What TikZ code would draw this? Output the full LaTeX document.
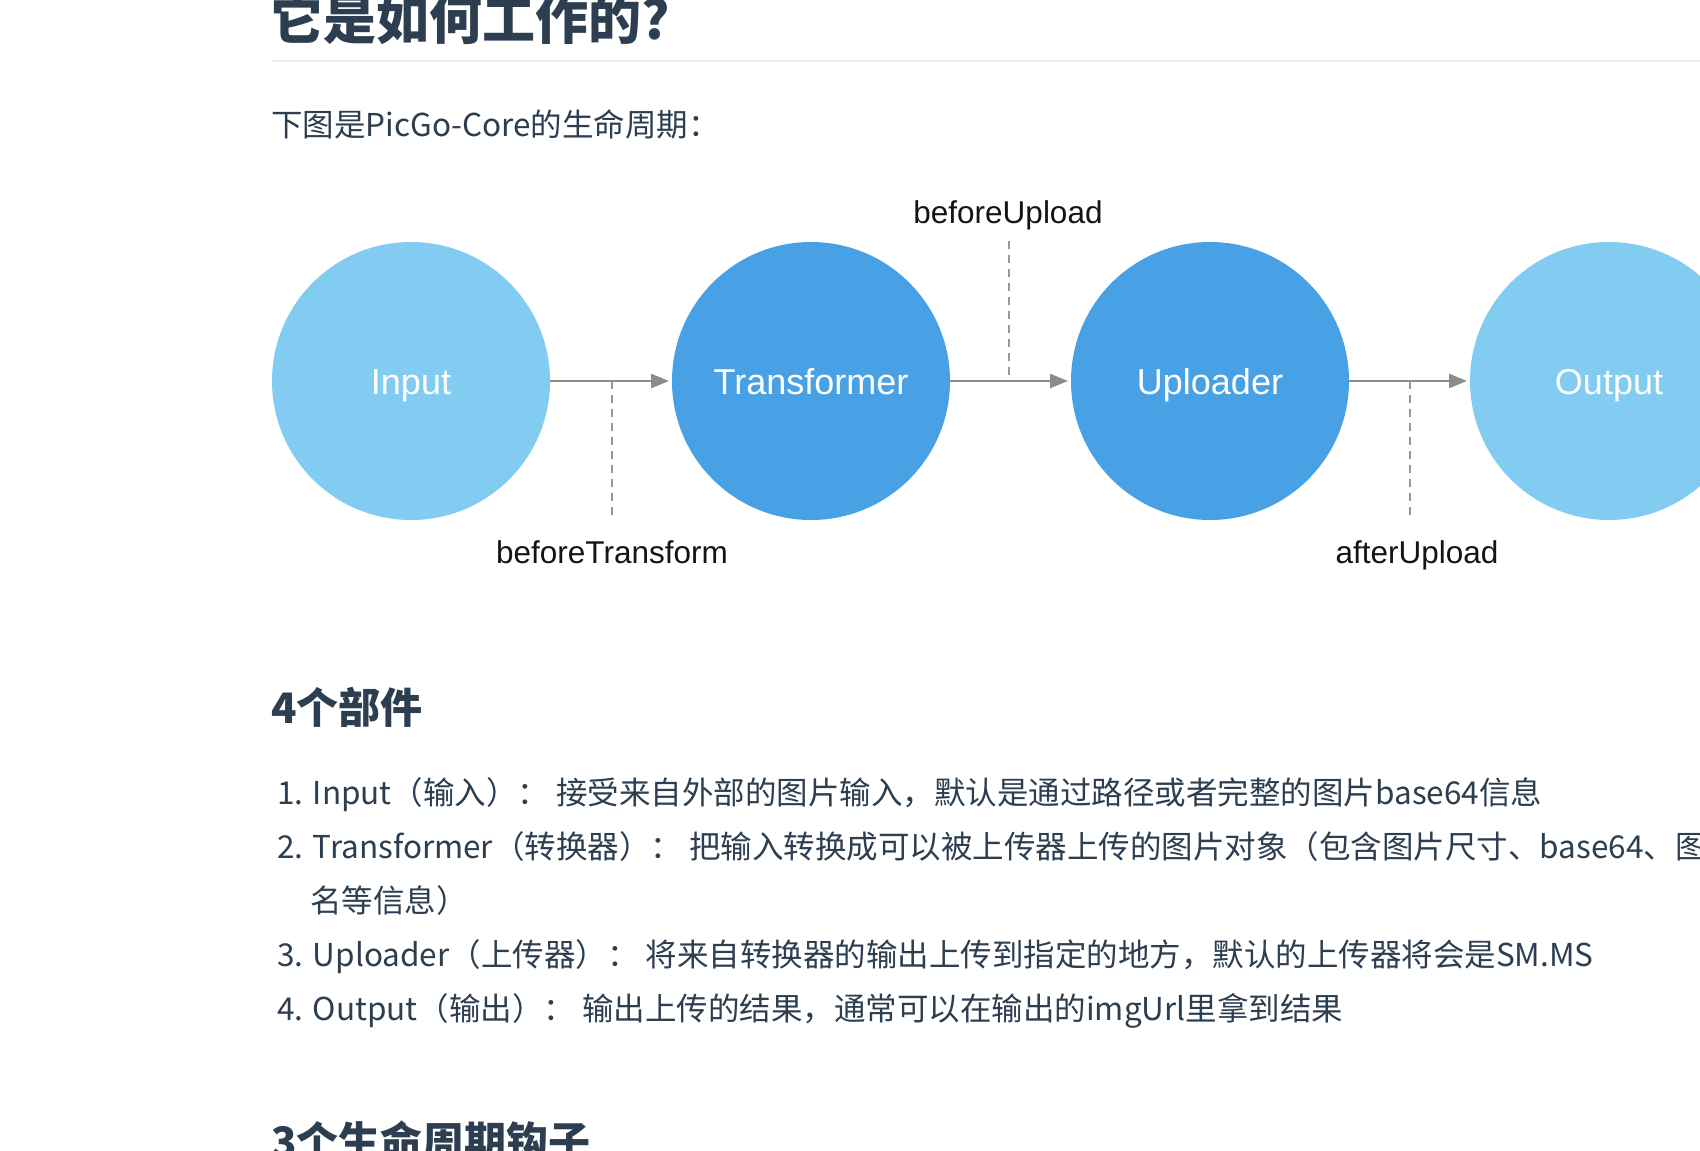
\documentclass[tikz,border=0pt]{standalone}
\usepackage{fontspec}
\setmainfont{Noto Sans CJK SC}
\newfontfamily\diag{Liberation Sans}
\usetikzlibrary{arrows.meta}
\definecolor{lightb}{RGB}{130,203,241}
\definecolor{darkb}{RGB}{72,161,228}
\definecolor{ink}{HTML}{2C3E50}
\definecolor{rulec}{HTML}{EAECEF}
\definecolor{arrg}{HTML}{8C8C8C}
\definecolor{dashg}{HTML}{999999}
\begin{document}
\begin{tikzpicture}[x=1pt,y=-1pt,
  stage/.style={circle,minimum size=278pt,inner sep=0pt,outer sep=0pt,text=white,
    text height=26pt,text depth=0pt,
    font=\diag\fontsize{36}{40}\selectfont},
  flow/.style={draw=arrg,line width=2.6pt,-{Triangle[length=18pt,width=14pt]},shorten >=3pt},
  hook/.style={draw=dashg,line width=2pt,dash pattern=on 8pt off 6pt},
  hooklabel/.style={font=\diag\fontsize{31.5}{36}\selectfont,text=black!92,inner sep=0pt,anchor=base},
  hone/.style={font=\bfseries\fontsize{53}{60}\selectfont,text=ink,anchor=base west,inner sep=0pt},
  htwo/.style={font=\bfseries\fontsize{42}{50}\selectfont,text=ink,anchor=base west,inner sep=0pt},
  body/.style={font=\fontsize{31.5}{38}\selectfont,text=ink,anchor=base west,inner sep=0pt}]
\useasboundingbox (0,0) rectangle (1700,1151);
\clip (0,0) rectangle (1700,1151);
\fill[white] (0,0) rectangle (1700,1151);

% page text
\node[hone] (title) at (270,39) {它是如何工作的?};
\draw[rulec,line width=2pt] (272,61) -- (1700,61);
\node[body] (intro) at (271,136) {下图是PicGo-Core的生命周期：};

% diagram
\node[stage,fill=lightb] (in) at (411,381) {Input};
\node[stage,fill=darkb]  (tr) at (811,381) {Transformer};
\node[stage,fill=darkb]  (up) at (1210,381) {Uploader};
\node[stage,fill=lightb] (out) at (1609,381) {Output};

\draw[flow] (in) -- (tr);
\draw[flow] (tr) -- (up);
\draw[flow] (up) -- (out);

\coordinate (bt0) at (611.5,381);
\coordinate (bt1) at (611.5,521);
\coordinate (bu0) at (1009,241);
\coordinate (bu1) at (1009,381);
\coordinate (au0) at (1410,381);
\coordinate (au1) at (1410,521);
\draw[hook] (bt0) -- (bt1);
\draw[hook] (bu0) -- (bu1);
\draw[hook] (au0) -- (au1);

\node[hooklabel] (btl) at (612,563) {beforeTransform};
\node[hooklabel] (bul) at (1008,223) {beforeUpload};
\node[hooklabel] (aul) at (1417,563) {afterUpload};

% section
\node[htwo] (parts) at (271,723) {4个部件};
\node[body] (l1) at (277,804) {1. Input（输入）： 接受来自外部的图片输入，默认是通过路径或者完整的图片base64信息};
\node[body] (l2) at (277,858) {2. Transformer（转换器）： 把输入转换成可以被上传器上传的图片对象（包含图片尺寸、base64、图};
\node[body] (l2b) at (310,912) {名等信息）};
\node[body] (l3) at (277,966) {3. Uploader（上传器）： 将来自转换器的输出上传到指定的地方，默认的上传器将会是SM.MS};
\node[body] (l4) at (277,1020) {4. Output（输出）： 输出上传的结果，通常可以在输出的imgUrl里拿到结果};
\node[htwo] (hooks) at (271,1157) {3个生命周期钩子};
\end{tikzpicture}
\end{document}
